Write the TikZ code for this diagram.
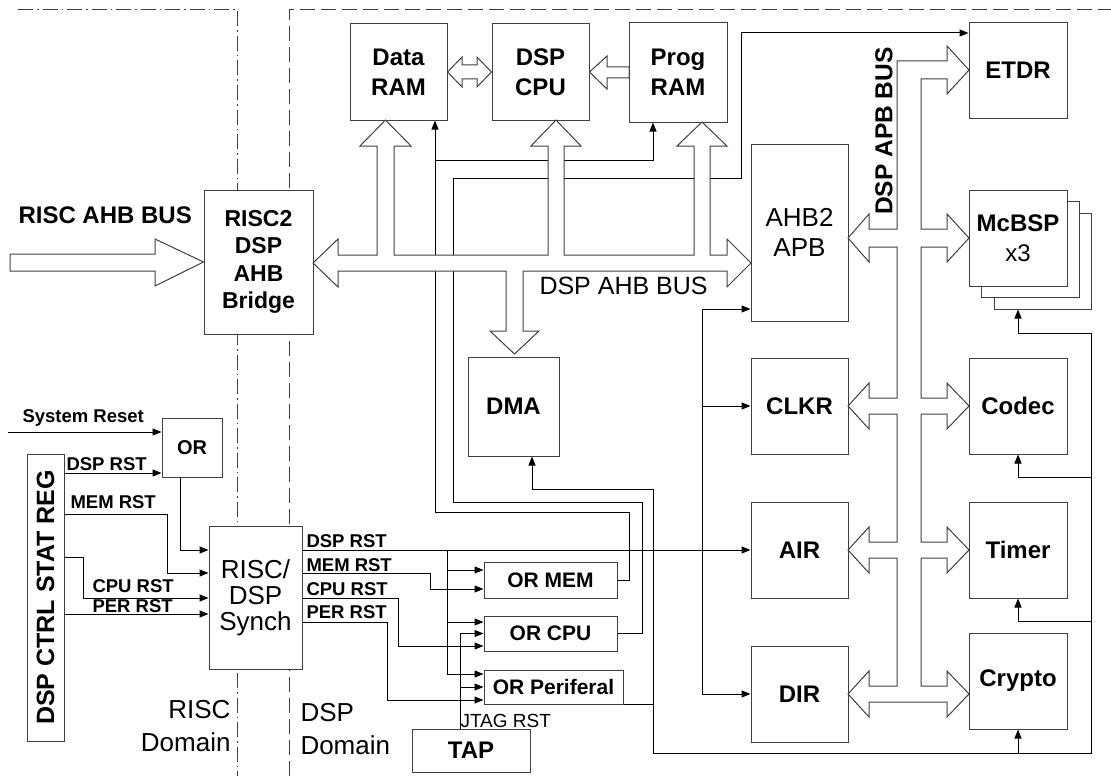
\documentclass[tikz,border=0pt]{standalone}
\usepackage{fontspec}
\setmainfont{Liberation Sans}
\usetikzlibrary{arrows.meta}
\definecolor{blockgray}{RGB}{64,64,64}

\begin{document}
\begin{tikzpicture}[
    x=1pt, y=-1pt,
    line width=1pt,
    wh/.style 2 args={minimum width=#1pt, minimum height=#2pt},
    block/.style={draw=blockgray, fill=white, inner sep=0pt, align=center,
        font=\fontsize{24}{30}\selectfont\bfseries},
    orbox/.style={block, font=\fontsize{21}{25}\selectfont\bfseries},
    sig/.style={draw=black, -{Triangle[length=9pt,width=7pt]}},
    wire/.style={draw=black},
    bus/.style={draw=blockgray, fill=white, line join=miter},
    tag/.style={inner sep=0pt, anchor=base west, font=\fontsize{18.5}{22}\selectfont\bfseries},
    riscframe/.style={draw=blockgray, dash pattern=on 15pt off 4pt on 1.5pt off 4pt},
    dspframe/.style={draw=blockgray, dash pattern=on 15pt off 6pt}
]
    \useasboundingbox (0,0) rectangle (1111,776);

    % ==========================================
    % DOMAIN BORDERS
    % ==========================================
    \draw[riscframe] (18,10) -- (237,10) -- (237,776);
    \draw[dspframe] (289,776) -- (289,10) -- (1111,10);

    % ==========================================
    % BLOCKS
    % ==========================================
    % RISC side
    \node[block, wh={109}{144}, font=\fontsize{23}{27.5}\selectfont\bfseries] (bridge) at (258.5,262) {RISC2\\DSP\\AHB\\Bridge};
    \node[block, wh={60}{59}, font=\fontsize{20}{24}\selectfont\bfseries] (orsys) at (192,447.5) {OR};
    \node[block, wh={37}{287}] (ctrl) at (45.5,597.5) {};
    \node[rotate=90, inner sep=0pt, font=\fontsize{25}{28}\selectfont\bfseries] (ctrltext) at (ctrl.center) {DSP CTRL STAT REG};
    \node[block, wh={93}{143}, font=\fontsize{26}{26}\selectfont] (synch) at (255.5,597.5) {RISC/\\DSP\\Synch};

    % DSP core
    \node[block, wh={97}{96}] (dram) at (398.5,72) {Data\\RAM};
    \node[block, wh={97}{96}] (dcpu) at (540.5,72) {DSP\\CPU};
    \node[block, wh={98}{99}] (pram) at (678,72.5) {Prog\\RAM};
    \node[block, wh={91}{99}] (dma) at (513.5,406.5) {DMA};

    % reset logic
    \node[orbox, wh={133}{36}] (ormem) at (550.5,580) {OR MEM};
    \node[orbox, wh={133}{35}] (orcpu) at (550.5,633.5) {OR CPU};
    \node[orbox, wh={139}{34}] (orper) at (553.5,687) {OR Periferal};
    \node[block, wh={118}{43}] (tap) at (471,750.5) {TAP};

    % APB side
    \node[block, wh={97}{177}, font=\fontsize{26}{30}\selectfont] (ahbapb) at (799.5,232.5) {AHB2\\APB};
    \node[block, wh={97}{96}] (clkr) at (799.5,406) {CLKR};
    \node[block, wh={97}{96}] (air) at (799.5,550) {AIR};
    \node[block, wh={97}{96}] (dir) at (799.5,694) {DIR};

    \node[block, wh={98}{95}] (etdr) at (1018,70.5) {ETDR};
    \node[block, wh={97}{96}] (mcbspc) at (1042.5,261) {};
    \node[block, wh={98}{96}] (mcbspb) at (1030,249) {};
    \node[block, wh={98}{96}] (mcbsp) at (1018,238) {McBSP\\\mdseries x3};
    \node[block, wh={98}{96}] (codec) at (1018,406) {Codec};
    \node[block, wh={98}{96}] (timer) at (1018,550) {Timer};
    \node[block, wh={98}{96}] (crypto) at (1018,681) {Crypto};

    % ==========================================
    % RESET SIGNALS (RISC side)
    % ==========================================
    \coordinate (sysin) at (8,432);
    \draw[sig] (sysin) -- (orsys.west |- sysin);
    \draw[sig] (ctrl.east |- 0,473) -- (orsys.west |- 0,473);
    \draw[sig] (orsys.south -| 180,0) |- (synch.west |- 0,550);
    \draw[sig] (ctrl.east |- 0,514) -| (167,573) -- (synch.west |- 0,573);
    \draw[sig] (ctrl.east |- 0,557) -| (83,598) -- (synch.west |- 0,598);
    \draw[sig] (ctrl.east |- 0,614) -- (synch.west |- 0,614);

    % ==========================================
    % RESET SIGNALS (DSP side)
    % ==========================================
    \draw[sig] (synch.east |- air.west) -- (air.west);
    \draw[sig] (447,550) |- (orper.west |- 0,674);
    \draw[sig] (447,570) -- (ormem.west |- 0,570);
    \draw[sig] (447,622) -- (orcpu.west |- 0,622);
    \draw[sig] (synch.east |- 0,573) -| (430,589) -- (ormem.west |- 0,589);
    \draw[sig] (synch.east |- 0,598) -| (398,646) -- (orcpu.west |- 0,646);
    \draw[sig] (synch.east |- 0,622) -| (387,700) -- (orper.west |- 0,700);
    \draw[sig] (tap.north -| 460,0) |- (orcpu.west);
    \draw[sig] (460,687) -- (orper.west);

    % APB peripherals on the DSP reset
    \draw[sig] (702,550) |- (ahbapb.west |- 0,309);
    \draw[sig] (702,406) -- (clkr.west);
    \draw[sig] (702,550) |- (dir.west);

    % memory reset
    \draw[sig] (ormem.east) -| (629,512) -| (dram.south -| 435,0);
    \draw[sig] (435,160) -| (pram.south -| 653,0);

    % cpu reset
    \draw[sig] (orcpu.east) -| (642,502) -| (453,178) -| (741,33) -- (etdr.west |- 0,33);

    % peripheral reset
    \draw[sig] (orper.south east) -| (653,489) -| (dma.south -| 532,0);
    \draw[wire] (653,704) |- (1091,753) |- (1018,333);
    \draw[sig] (1018,333) -- (mcbspc.south -| 1018,0);
    \draw[sig] (1091,477) -| (codec.south);
    \draw[sig] (1091,621) -| (timer.south);
    \draw[sig] (1018,753) -- (crypto.south);

    % ==========================================
    % BUSES
    % ==========================================
    % RISC AHB bus
    \draw[bus] (10,254) -- (155,254) -- (155,239) -- (bridge.west) -- (155,286) -- (155,271) -- (10,271) -- cycle;

    % DSP AHB bus
    \draw[bus] (338,255) -- (338,239) -- (313,263) -- (338,287) -- (338,271)
        -- (506,271) -- (506,331) -- (490,331) -- (514.5,354) -- (539,331) -- (523,331) -- (523,271)
        -- (727,271) -- (727,287) -- (751,263) -- (727,239) -- (727,255)
        -- (710,255) -- (710,146) -- (727,146) -- (702,122) -- (677,146) -- (694,146) -- (694,255)
        -- (564,255) -- (564,146) -- (581,146) -- (556,120) -- (531,146) -- (548,146) -- (548,255)
        -- (394,255) -- (394,146) -- (411,146) -- (385.5,120) -- (360,146) -- (377,146) -- (377,255)
        -- cycle;

    % core links
    \draw[bus] (dram.east) -- (462,57) -- (462,65) -- (477,65) -- (477,57) -- (dcpu.west)
        -- (477,87) -- (477,79) -- (462,79) -- (462,87) -- cycle;
    \draw[bus] (dcpu.east) -- (607,56) -- (607,67) -- (629,67) -- (629,78) -- (607,78) -- (607,89) -- cycle;

    % DSP APB bus
    \draw[bus] (848,694) -- (869,671) -- (869,686) -- (897,686)
        -- (897,558) -- (869,558) -- (869,573) -- (848,550) -- (869,527) -- (869,542) -- (897,542)
        -- (897,414) -- (869,414) -- (869,429) -- (848,406) -- (869,383) -- (869,398) -- (897,398)
        -- (897,247) -- (869,247) -- (869,262) -- (848,238) -- (869,214) -- (869,229) -- (897,229)
        -- (897,61) -- (947,61) -- (947,46) -- (969,70) -- (947,94) -- (947,79) -- (921,79)
        -- (921,229) -- (947,229) -- (947,214) -- (969,238) -- (947,262) -- (947,247) -- (921,247)
        -- (921,398) -- (947,398) -- (947,383) -- (969,406) -- (947,429) -- (947,414) -- (921,414)
        -- (921,542) -- (947,542) -- (947,527) -- (969,550) -- (947,573) -- (947,558) -- (921,558)
        -- (921,686) -- (947,686) -- (947,671) -- (969,694) -- (947,717) -- (947,702)
        -- (869,702) -- (869,717) -- cycle;

    % ==========================================
    % LABELS
    % ==========================================
    \node[tag, font=\fontsize{24}{28}\selectfont\bfseries] (lriscbus) at (18,223) {RISC AHB BUS};
    \node[tag, font=\fontsize{25}{28}\selectfont] (lahbbus) at (539,294) {DSP AHB BUS};
    \node[rotate=90, inner sep=0pt, font=\fontsize{24.5}{28}\selectfont\bfseries] (lapbbus) at (884,131) {DSP APB BUS};

    \node[tag] (lsysrst) at (22,422) {System Reset};
    \node[tag] (ldsprst) at (66,470) {DSP RST};
    \node[tag] (lmemrst) at (70,508) {MEM RST};
    \node[tag] (lcpurst) at (92,592) {CPU RST};
    \node[tag] (lperrst) at (92,612) {PER RST};

    \node[tag] (odsprst) at (306,547) {DSP RST};
    \node[tag] (omemrst) at (306,571) {MEM RST};
    \node[tag] (ocpurst) at (306,595) {CPU RST};
    \node[tag] (operrst) at (306,618) {PER RST};
    \node[tag, font=\fontsize{19}{22}\selectfont] (ljtag) at (460,727) {JTAG RST};

    \node[anchor=north east, inner sep=0pt, align=right, font=\fontsize{26}{33}\selectfont] (lriscdom) at (231,700) {RISC\\Domain};
    \node[anchor=north west, inner sep=0pt, align=left, font=\fontsize{26}{33}\selectfont] (ldspdom) at (300,703) {DSP\\Domain};

\end{tikzpicture}
\end{document}
